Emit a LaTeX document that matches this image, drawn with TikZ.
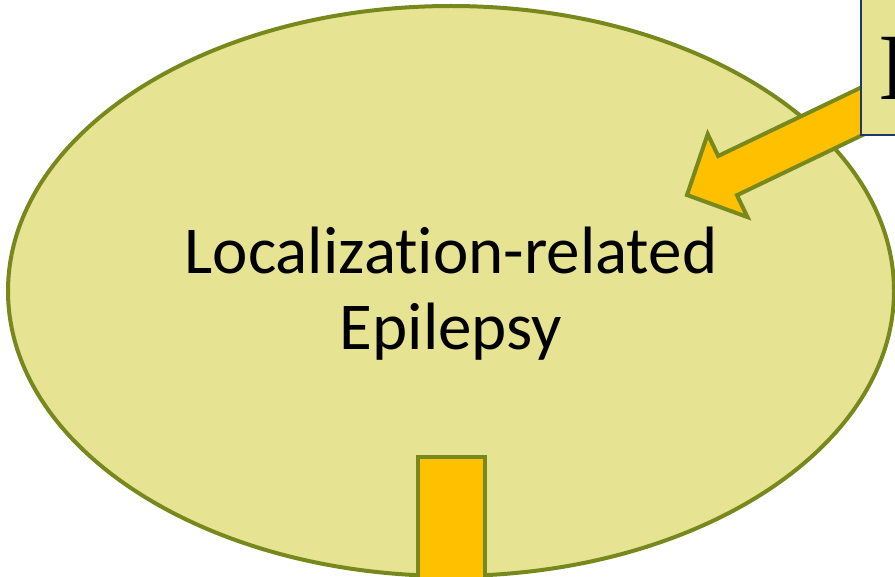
\documentclass[tikz,border=0pt]{standalone}
\usepackage{fontspec}
\usetikzlibrary{shapes.geometric}
\setmainfont[Ligatures=NoCommon]{Carlito}
\newfontfamily\serifface{Liberation Serif}
\definecolor{ellfill}{HTML}{E6E393}
\definecolor{olive}{HTML}{77891C}
\definecolor{gold}{HTML}{FFC000}
\definecolor{navy}{HTML}{203864}
\tikzset{
  olivestroke/.style={draw=olive, line width=4pt, line join=miter},
  blockarrow/.style={olivestroke, fill=gold},
  labelbox/.style={draw=navy, line width=1.5pt, fill=ellfill},
}
\begin{document}
\begin{tikzpicture}[x=1pt,y=-1pt]
\useasboundingbox (0,0) rectangle (895,577);
\begin{scope}
\clip (0,0) rectangle (895,577);
% main ellipse
\node[olivestroke, fill=ellfill, shape=ellipse, minimum width=886pt, minimum height=570pt, inner sep=0pt] (ell) at (451,291) {};
% text
\node[align=center, font=\fontsize{67}{76}\selectfont, inner sep=0pt, anchor=base] (lbl) at (451,350) {Localization-related\\Epilepsy};
% bottom bar
\coordinate (barTL) at (418,457);
\coordinate (barBR) at (485,600);
\draw[blockarrow] (barTL) rectangle (barBR);
% arrow from the box
\coordinate (tip) at (687,195);
\draw[blockarrow] (tip) -- (707.7,134.1) -- (718.2,156.0) -- (885.1,76.0) -- (903.9,115.2) -- (737.0,195.2) -- (747.5,217.1) -- cycle;
% partial box at top right
\coordinate (boxTL) at (861,-5);
\coordinate (boxBR) at (920,135);
\draw[labelbox] (boxTL) rectangle (boxBR);
\node[anchor=base west, inner sep=0pt, font=\serifface\fontsize{95}{95}\selectfont] (boxtext) at (878,100) {I};
\end{scope}
\end{tikzpicture}
\end{document}
